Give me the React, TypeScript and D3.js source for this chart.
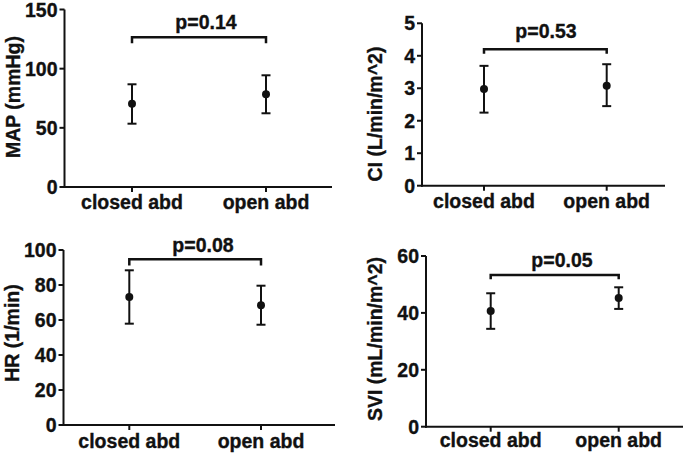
import React from "react";
import * as d3 from "d3";

const categories = ["closed abd", "open abd"];

const mapMean = [70.4, 78.3];
const mapLow = [53.5, 62.3];
const mapHigh = [86.8, 94.4];
const mapTicks = [0, 50, 100, 150];

const ciMean = [2.98, 3.08];
const ciLow = [2.25, 2.45];
const ciHigh = [3.69, 3.74];
const ciTicks = [0, 1, 2, 3, 4, 5];

const hrMean = [73.1, 68.4];
const hrLow = [57.9, 57.3];
const hrHigh = [88.4, 79.6];
const hrTicks = [0, 20, 40, 60, 80, 100];

const sviMean = [40.7, 45.2];
const sviLow = [34.4, 41.4];
const sviHigh = [46.9, 49.0];
const sviTicks = [0, 20, 40, 60];

const pLabels = ["p=0.14", "p=0.53", "p=0.08", "p=0.05"];
const yTitles = ["MAP (mmHg)", "CI (L/min/m^2)", "HR (1/min)", "SVI (mL/min/m^2)"];
const bracketValues = [126.5, 4.2, 94.7, 53.3];
const bracketLegs = [121.5, 4.06, 91.2, 51.8];

const FONT = "'Liberation Sans', Arial, Helvetica, sans-serif";
const INK = "#111";

type Layout = {
  axisX: number; axisEnd: number; yTop: number; yBottom: number;
  cat0: number; cat1: number; titleX: number; titleY: number;
  catBaseline: number; pBaseline: number; pX: number;
};

const layouts: Layout[] = [
  { axisX: 64.5, axisEnd: 332, yTop: 9.5, yBottom: 187, cat0: 132, cat1: 266, titleX: 13, titleY: 97, catBaseline: 209, pBaseline: 29, pX: 206 },
  { axisX: 422, axisEnd: 665, yTop: 23.3, yBottom: 185.7, cat0: 484, cat1: 606.7, titleX: 375, titleY: 114, catBaseline: 208, pBaseline: 38, pX: 546 },
  { axisX: 63.5, axisEnd: 335, yTop: 250, yBottom: 425, cat0: 129.3, cat1: 261, titleX: 12, titleY: 333, catBaseline: 448, pBaseline: 252, pX: 203 },
  { axisX: 426, axisEnd: 683, yTop: 256, yBottom: 426.7, cat0: 490.7, cat1: 618.7, titleX: 374.5, titleY: 339, catBaseline: 447, pBaseline: 267, pX: 562 },
];

const panelData = [
  { mean: mapMean, low: mapLow, high: mapHigh, ticks: mapTicks },
  { mean: ciMean, low: ciLow, high: ciHigh, ticks: ciTicks },
  { mean: hrMean, low: hrLow, high: hrHigh, ticks: hrTicks },
  { mean: sviMean, low: sviLow, high: sviHigh, ticks: sviTicks },
];

const textProps = {
  fontSize: 19.5,
  fontWeight: "bold" as const,
  fontFamily: FONT,
  fill: INK,
  stroke: INK,
  strokeWidth: 0.35,
};

function Panel({ i }: { i: number }) {
  const L = layouts[i];
  const D = panelData[i];
  const ticks = D.ticks;
  const y = d3.scaleLinear().domain([ticks[0], ticks[ticks.length - 1]]).range([L.yBottom, L.yTop]);
  const x = d3.scalePoint<string>().domain(categories).range([L.cat0, L.cat1]);
  const bY = y(bracketValues[i]);
  const bLeg = y(bracketLegs[i]);
  return (
    <g>
      <line x1={L.axisX} x2={L.axisX} y1={L.yTop} y2={L.yBottom + 1} stroke={INK} strokeWidth={2} />
      {ticks.map((t) => (
        <g key={t}>
          <line x1={L.axisX - 5} x2={L.axisX} y1={y(t)} y2={y(t)} stroke={INK} strokeWidth={2} />
          <text x={L.axisX - 7} y={y(t)} dy="0.36em" textAnchor="end" {...textProps}>{t}</text>
        </g>
      ))}
      <line x1={L.axisX - 1} x2={L.axisEnd} y1={L.yBottom} y2={L.yBottom} stroke={INK} strokeWidth={2} />
      {categories.map((c) => (
        <g key={c}>
          <line x1={x(c)} x2={x(c)} y1={L.yBottom} y2={L.yBottom + 5} stroke={INK} strokeWidth={2} />
          <text x={x(c)} y={L.catBaseline} textAnchor="middle" {...textProps}>{c}</text>
        </g>
      ))}
      <text transform={`translate(${L.titleX},${L.titleY}) rotate(-90)`} dy="0.36em" textAnchor="middle" {...textProps}>{yTitles[i]}</text>
      {categories.map((c, k) => {
        const cx = x(c) as number;
        return (
          <g key={"e" + c}>
            <line x1={cx} x2={cx} y1={y(D.low[k])} y2={y(D.high[k])} stroke={INK} strokeWidth={2} />
            <line x1={cx - 4.5} x2={cx + 4.5} y1={y(D.low[k])} y2={y(D.low[k])} stroke={INK} strokeWidth={2} />
            <line x1={cx - 4.5} x2={cx + 4.5} y1={y(D.high[k])} y2={y(D.high[k])} stroke={INK} strokeWidth={2} />
            <circle cx={cx} cy={y(D.mean[k])} r={4} fill={INK} />
          </g>
        );
      })}
      <path d={`M${L.cat0},${bLeg}V${bY}H${L.cat1}V${bLeg}`} fill="none" stroke={INK} strokeWidth={2.5} />
      <text x={L.pX} y={L.pBaseline} textAnchor="middle" {...textProps}>{pLabels[i]}</text>
    </g>
  );
}

export default function App() {
  return (
    <svg width={685} height={456} style={{ position: "absolute", left: 0, top: 0, background: "#fff" }}>
      <rect width={685} height={456} fill="#fff" />
      {layouts.map((_, i) => <Panel key={i} i={i} />)}
    </svg>
  );
}
